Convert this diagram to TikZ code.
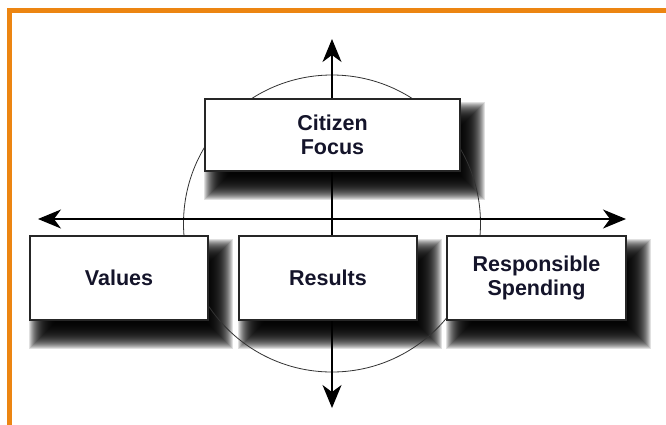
\documentclass[tikz,border=0pt]{standalone}
\usepackage{fontspec}
\setmainfont{Liberation Sans}
\usetikzlibrary{arrows.meta,calc}
\definecolor{frameorange}{HTML}{EC8512}
\definecolor{txt}{HTML}{14142A}
\tikzset{
  box/.style={draw=black!85, line width=1.3pt, fill=white, inner sep=0pt,
    align=center, text=txt, font=\fontsize{21.5}{24}\selectfont\bfseries},
  shadowlayer/.style={fill=black, opacity=0.12},
  ring/.style={draw=black!80, line width=0.8pt, circle, inner sep=0pt},
  arr/.style={line width=1.4pt, draw=black,
    {Stealth[length=23pt,width=19pt,inset=7pt]}-{Stealth[length=23pt,width=19pt,inset=7pt]}},
  frame/.style={draw=frameorange, line width=5pt}
}
\begin{document}
\begin{tikzpicture}[x=1pt,y=-1pt]
\useasboundingbox (0,0) rectangle (666,424);
\fill[white] (0,0) rectangle (666,424);
\begin{scope}
  \clip (0,0) rectangle (666,424);
  \coordinate (fbl) at (9.5,440);
  \coordinate (ftl) at (9.5,10.5);
  \coordinate (ftr) at (690,10.5);
  \draw[frame] (fbl) -- (ftl) -- (ftr);
\end{scope}

% box corners
\coordinate (cfA) at (205,99);   \coordinate (cfB) at (460,171);
\coordinate (valA) at (30,236);  \coordinate (valB) at (208,320);
\coordinate (resA) at (239,236); \coordinate (resB) at (417,320);
\coordinate (rspA) at (447,236); \coordinate (rspB) at (626,320);

% soft shadows (offset 12,16; blur 13)
\foreach \b in {cf,val,res,rsp}{
  \foreach \i in {0,...,26}{
    \fill[shadowlayer] ($(\b A)+(-1+\i,3+\i)$) rectangle ($(\b B)+(25-\i,29-\i)$);
  }
}

% ring and axes
\node[ring, minimum size=297pt] (circ) at (332,223.5) {};
\coordinate (vtop) at (332,39);
\coordinate (vbot) at (332,408);
\coordinate (hleft) at (38,219);
\coordinate (hright) at (626,219);
\draw[arr] (vtop) -- (vbot);
\draw[arr] (hleft) -- (hright);

% boxes
\node[box, minimum width=255pt, minimum height=72pt] (cf) at ($(cfA)!0.5!(cfB)$) {Citizen\\Focus};
\node[box, minimum width=178pt, minimum height=84pt] (val) at ($(valA)!0.5!(valB)$) {Values};
\node[box, minimum width=178pt, minimum height=84pt] (res) at ($(resA)!0.5!(resB)$) {Results};
\node[box, minimum width=179pt, minimum height=84pt] (rsp) at ($(rspA)!0.5!(rspB)$) {Responsible\\Spending};
\end{tikzpicture}
\end{document}
